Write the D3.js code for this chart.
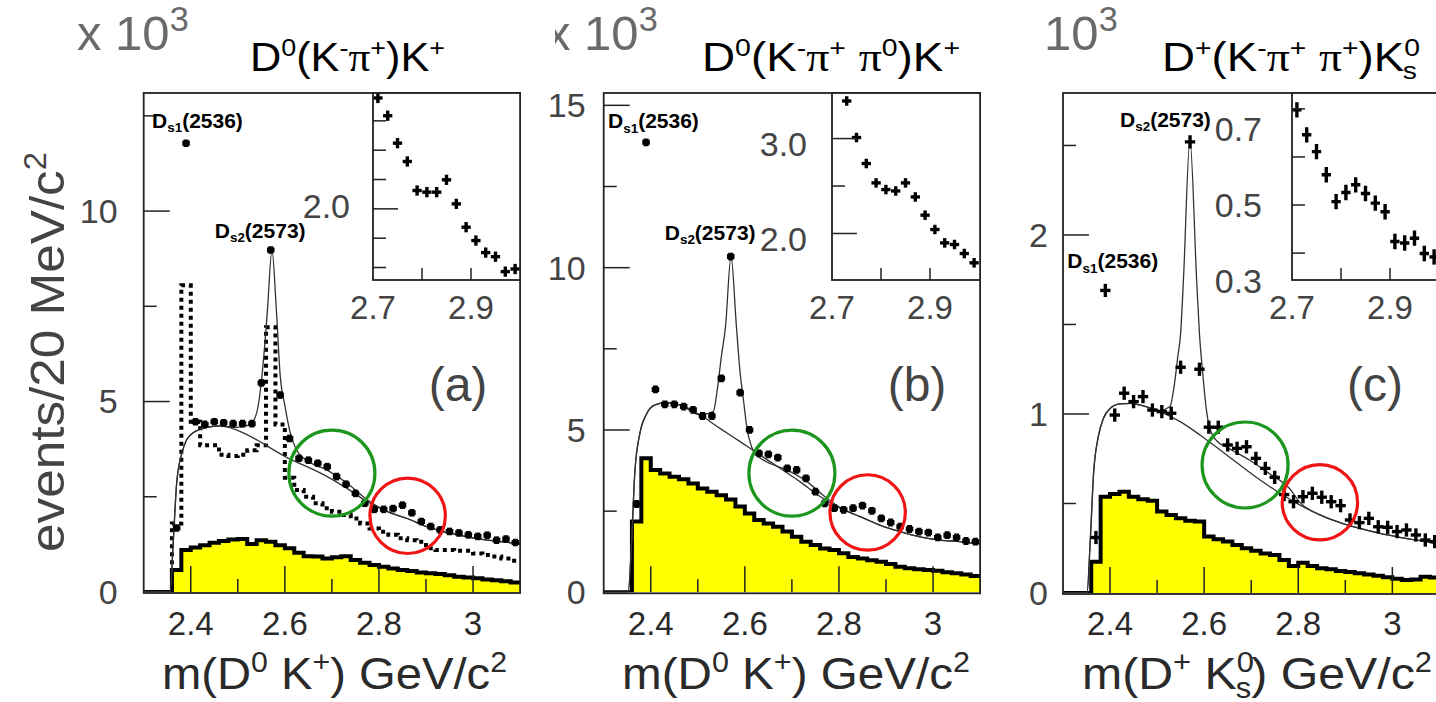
<!DOCTYPE html>
<html>
<head>
<meta charset="utf-8">
<script src="https://cdn.jsdelivr.net/npm/d3@7"></script>
<style>
body { margin: 0; background: #fff; }
svg { display: block; }
</style>
</head>
<body>
<script>
// 20 MeV bin centres (GeV/c^2)
const bins = [2.31, 2.33, 2.35, 2.37, 2.39, 2.41, 2.43, 2.45, 2.47, 2.49,
	2.51, 2.53, 2.55, 2.57, 2.59, 2.61, 2.63, 2.65, 2.67, 2.69,
	2.71, 2.73, 2.75, 2.77, 2.79, 2.81, 2.83, 2.85, 2.87, 2.89,
	2.91, 2.93, 2.95, 2.97, 2.99, 3.01, 3.03, 3.05, 3.07, 3.09];

// (a) D0(K-pi+)K+   values in 10^3 events / 20 MeV
const dataA = [null, null, null, 1.68, 11.78, 4.47, 4.40, 4.47, 4.44, 4.42,
	4.42, 4.42, 5.49, 8.98, 5.17, 4.03, 3.51, 3.46, 3.38, 3.29,
	3.03, 2.83, 2.59, 2.33, 2.17, 2.17, 2.19, 2.28, 2.08, 1.85,
	1.72, 1.63, 1.59, 1.55, 1.50, 1.46, 1.49, 1.36, 1.39, 1.30];
const yellowA = [0, 0, 0, 0.58, 1.10, 1.17, 1.23, 1.29, 1.34, 1.38,
	1.39, 1.26, 1.36, 1.32, 1.23, 1.15, 1.03, 0.94, 0.93, 0.88,
	0.91, 0.94, 0.84, 0.77, 0.71, 0.66, 0.62, 0.58, 0.55, 0.51,
	0.49, 0.47, 0.44, 0.40, 0.38, 0.36, 0.33, 0.31, 0.28, 0.25];
const dottedA = [0, 0, 0, 1.80, 8.05, 4.47, 3.85, 3.85, 3.60, 3.57,
	3.60, 3.72, 3.85, 6.95, 4.40, 3.00, 2.68, 2.50, 2.33, 2.20,
	2.11, 2.02, 1.93, 1.80, 1.67, 1.58, 1.50, 1.41, 1.36, 1.32,
	1.15, 1.10, 1.10, 1.08, 1.08, 1.01, 0.97, 0.93, 0.88, 0.82];
const bgA = [[2.30, 0], [2.356, 0], [2.363, 1.36], [2.370, 2.85], [2.381, 3.64], [2.391, 3.99],
	[2.405, 4.18], [2.434, 4.32], [2.462, 4.36], [2.498, 4.25], [2.541, 3.99], [2.576, 3.73],
	[2.612, 3.48], [2.647, 3.29], [2.690, 3.03], [2.732, 2.72], [2.775, 2.37], [2.818, 2.11],
	[2.860, 1.93], [2.903, 1.71], [2.945, 1.56], [2.988, 1.45], [3.031, 1.36], [3.10, 1.27]];
const fitA = [[2.30, 0], [2.356, 0], [2.363, 1.36], [2.370, 2.85], [2.381, 3.64], [2.391, 3.99],
	[2.405, 4.18], [2.434, 4.32], [2.462, 4.36], [2.498, 4.32], [2.527, 4.40], [2.541, 4.75],
	[2.552, 5.75], [2.558, 6.6], [2.563, 7.4], [2.5726, 8.98], [2.582, 7.4], [2.590, 5.7],
	[2.600, 4.9], [2.612, 4.15], [2.625, 3.72], [2.647, 3.45], [2.690, 3.20], [2.732, 2.86],
	[2.775, 2.42], [2.818, 2.11], [2.860, 1.93], [2.903, 1.71], [2.945, 1.56], [2.988, 1.45],
	[3.031, 1.36], [3.10, 1.27]];
const insetMassA = [2.71, 2.73, 2.75, 2.77, 2.79, 2.81, 2.83, 2.85, 2.87, 2.89, 2.91, 2.93, 2.95, 2.97, 2.99];
const insetA = [2.756, 2.635, 2.448, 2.323, 2.125, 2.114, 2.114, 2.198, 2.034, 1.875, 1.784, 1.702, 1.674, 1.572, 1.590];
const circlesA = [[2.700, 3.12], [2.861, 2.00]];

// (b) D0(K-pi+pi0)K+
const dataB = [null, null, null, 2.72, 13.86, 6.25, 5.79, 5.79, 5.72, 5.62,
	5.43, 5.43, 6.59, 10.34, 6.15, 5.00, 4.28, 4.25, 4.15, 3.82,
	3.77, 3.51, 3.10, 2.74, 2.59, 2.54, 2.59, 2.67, 2.51, 2.28,
	2.15, 2.02, 1.95, 1.87, 1.84, 1.69, 1.76, 1.69, 1.58, 1.56];
const yellowB = [0, 0, 0, 2.18, 4.13, 3.77, 3.66, 3.56, 3.48, 3.35,
	3.20, 3.10, 2.99, 2.86, 2.64, 2.43, 2.23, 2.12, 2.02, 1.87,
	1.71, 1.56, 1.46, 1.35, 1.30, 1.20, 1.09, 1.04, 0.99, 0.94,
	0.87, 0.79, 0.74, 0.71, 0.69, 0.66, 0.62, 0.59, 0.55, 0.50];
const bgB = [[2.30, 0], [2.352, 0], [2.3595, 1.61], [2.366, 3.66], [2.377, 4.90], [2.391, 5.49],
	[2.409, 5.77], [2.434, 5.84], [2.462, 5.77], [2.505, 5.46], [2.547, 5.05], [2.590, 4.64],
	[2.632, 4.23], [2.675, 3.82], [2.717, 3.41], [2.760, 2.95], [2.802, 2.59], [2.845, 2.33],
	[2.887, 2.07], [2.930, 1.87], [2.972, 1.71], [3.015, 1.61], [3.057, 1.56], [3.10, 1.49]];
const fitB = [[2.30, 0], [2.352, 0], [2.3595, 1.61], [2.366, 3.66], [2.377, 4.90], [2.391, 5.49],
	[2.409, 5.77], [2.434, 5.84], [2.462, 5.77], [2.505, 5.47], [2.533, 5.57], [2.541, 6.2],
	[2.550, 7.25], [2.559, 8.2], [2.5706, 10.34], [2.582, 8.2], [2.590, 6.75], [2.597, 5.93],
	[2.604, 5.10], [2.614, 4.49], [2.625, 4.23], [2.646, 4.02], [2.689, 3.77], [2.732, 3.41],
	[2.774, 2.90], [2.802, 2.62], [2.845, 2.33], [2.887, 2.07], [2.930, 1.87], [2.972, 1.71],
	[3.015, 1.61], [3.057, 1.56], [3.10, 1.49]];
const insetMassB = [2.73, 2.75, 2.77, 2.79, 2.81, 2.83, 2.85, 2.87, 2.89, 2.91, 2.93, 2.95, 2.97, 2.99];
const insetB = [3.396, 3.011, 2.737, 2.533, 2.463, 2.448, 2.533, 2.385, 2.193, 2.042, 1.901, 1.884, 1.789, 1.691];
const circlesB = [[2.700, 3.67], [2.861, 2.46]];

// (c) D+(K-pi+pi+)K0s
const dataC = [null, null, null, 0.31, 1.69, 0.994, 1.116, 1.069, 1.097, 1.022,
	1.013, 1.004, 1.261, 2.52, 1.25, 0.926, 0.926, 0.827, 0.808, 0.817,
	0.752, 0.696, 0.646, 0.55, 0.510, 0.538, 0.557, 0.535, 0.510, 0.488,
	0.408, 0.393, 0.417, 0.370, 0.367, 0.343, 0.352, 0.324, 0.296, 0.287];
const yellowC = [0, 0, 0, 0.175, 0.538, 0.553, 0.566, 0.538, 0.523, 0.516,
	0.455, 0.436, 0.417, 0.404, 0.399, 0.315, 0.300, 0.287, 0.268, 0.250,
	0.236, 0.221, 0.212, 0.184, 0.151, 0.169, 0.151, 0.138, 0.132, 0.123,
	0.117, 0.110, 0.104, 0.097, 0.088, 0.080, 0.073, 0.076, 0.091, 0.086];
const bgC = [[2.30, 0], [2.351, 0], [2.358, 0.296], [2.365, 0.668], [2.375, 0.873], [2.386, 0.976],
	[2.400, 1.031], [2.421, 1.056], [2.443, 1.059], [2.471, 1.045], [2.506, 1.013], [2.549, 0.957],
	[2.591, 0.883], [2.634, 0.799], [2.676, 0.715], [2.719, 0.631], [2.761, 0.557], [2.804, 0.491],
	[2.846, 0.436], [2.889, 0.393], [2.931, 0.361], [2.974, 0.333], [3.016, 0.311], [3.059, 0.292], [3.10, 0.275]];
const fitC = [[2.30, 0], [2.351, 0], [2.358, 0.296], [2.365, 0.668], [2.375, 0.873], [2.386, 0.976],
	[2.400, 1.031], [2.421, 1.056], [2.443, 1.059], [2.471, 1.045], [2.506, 1.02], [2.527, 1.04],
	[2.537, 1.17], [2.544, 1.32], [2.550, 1.45], [2.556, 1.75], [2.5698, 2.53], [2.584, 1.75],
	[2.590, 1.45], [2.597, 1.227], [2.604, 1.04], [2.611, 0.93], [2.625, 0.855], [2.653, 0.807],
	[2.696, 0.743], [2.738, 0.668], [2.781, 0.585], [2.804, 0.505], [2.846, 0.436], [2.889, 0.393],
	[2.931, 0.361], [2.974, 0.333], [3.016, 0.311], [3.059, 0.292], [3.10, 0.275]];
const insetMassC = [2.71, 2.73, 2.75, 2.77, 2.79, 2.81, 2.83, 2.85, 2.87, 2.89, 2.91, 2.93, 2.95, 2.97, 2.99];
const insetC = [0.698, 0.646, 0.611, 0.563, 0.507, 0.526, 0.542, 0.524, 0.504, 0.486, 0.424, 0.421, 0.431, 0.399, 0.392];
const circlesC = [[2.687, 0.715], [2.846, 0.507]];

// tick values / labels
const xMajor = [2.4, 2.6, 2.8, 3.0];
const xMinor = [2.5, 2.7, 2.9];
const insetXTicks = [2.8, 2.9];
const insetXLabels = [2.7, 2.9];

const W = 1436, H = 702;
const FONT = "'Liberation Sans', Arial, sans-serif";
const svg = d3.select("body").append("svg").attr("width", W).attr("height", H)
	.style("font-family", FONT);

// text with super/subscripts
const rich = (sel, segs, size, ratio = 0.64) => {
	let off = 0;
	segs.forEach((s) => {
		const target = s.sup ? -size * 0.38 : s.sub ? size * 0.2 : 0;
		const ts = sel.append("tspan").text(s.t).attr("dy", target - off)
			.attr("font-size", s.sup || s.sub ? size * ratio : size);
		if (s.serif) ts.attr("font-family", "'Liberation Serif', serif");
		if (s.dx) ts.attr("dx", s.dx);
		off = target;
	});
};

const panels = [
	{
		left: 143.7, zero: 592, yMax: 13.1, yMajor: [0, 5, 10], yMinor: [2.5, 7.5, 12.5], yGap: 26,
		data: dataA, err: 0.10, hw: 0.008, pw: 5, yellow: yellowA, dotted: dottedA, bg: bgA, fit: fitA,
		inset: { left: 373, mass: insetMassA, vals: insetA, dom: [1.515, 2.79], ticks: [1.6, 1.8, 2.0, 2.2, 2.4, 2.6],
			major: [2.0], labels: [2.0], labelY: null, labelDy: -3.5, gap: 23, err: 0.035 },
		circles: circlesA, mult: 77, clipFrom: 0, titleX: 250, titleLen: 195, tagX: 458,
		title: [{ t: "D" }, { t: "0", sup: 1 }, { t: "(K" }, { t: "-", sup: 1 }, { t: "\u03c0", serif: 1 }, { t: "+", sup: 1 }, { t: ")K" }, { t: "+", sup: 1 }],
		tag: "(a)", ds1: [-34, -15], ds2: [-56, -12],
		xTitle: [{ t: "m(D" }, { t: "0", sup: 1 }, { t: " K" }, { t: "+", sup: 1 }, { t: ") GeV/c" }, { t: "2", sup: 1 }],
		xTitleX: 162, xTitleLen: 345
	},
	{
		left: 603.7, zero: 592.3, yMax: 15.38, yMajor: [0, 5, 10, 15], yMinor: [2.5, 7.5, 12.5], yGap: 18,
		data: dataB, err: 0.12, hw: 0.008, pw: 5, yellow: yellowB, dotted: null, bg: bgB, fit: fitB,
		inset: { left: 832, mass: insetMassB, vals: insetB, dom: [1.51, 3.48], ticks: [2.0, 2.5, 3.0],
			major: [2.0, 3.0], labels: [2.0, 3.0], labelY: null, labelDy: 5.5, gap: 25, err: 0.05 },
		circles: circlesB, mult: 546, clipFrom: 555, titleX: 702, titleLen: 258, tagX: 917,
		title: [{ t: "D" }, { t: "0", sup: 1 }, { t: "(K" }, { t: "-", sup: 1 }, { t: "\u03c0", serif: 1 }, { t: "+", sup: 1 },
			{ t: " " }, { t: "\u03c0", serif: 1 }, { t: "0", sup: 1 }, { t: ")K" }, { t: "+", sup: 1 }],
		tag: "(b)", ds1: [-38, -14], ds2: [-66, -17],
		xTitle: [{ t: "m(D" }, { t: "0", sup: 1 }, { t: " K" }, { t: "+", sup: 1 }, { t: ") GeV/c" }, { t: "2", sup: 1 }],
		xTitleX: 622, xTitleLen: 348
	},
	{
		left: 1063, zero: 593, yMax: 2.793, yMajor: [0, 1, 2], yMinor: [0.5, 1.5, 2.5], yGap: 15,
		data: dataC, err: 0.037, hw: 0.011, pw: 3.4, yellow: yellowC, dotted: null, bg: bgC, fit: fitC,
		inset: { left: 1292, mass: insetMassC, vals: insetC, dom: [0.344, 0.733], ticks: [0.4, 0.5, 0.6, 0.7],
			major: [], labels: [0.3, 0.5, 0.7], labelY: [[0.3, 0.7], [281, 129]], labelDy: 0, gap: 30, err: 0.016 },
		circles: circlesC, mult: 1006, clipFrom: 1035, titleX: 1162, titleLen: 258, tagX: 1375,
		title: [{ t: "D" }, { t: "+", sup: 1 }, { t: "(K" }, { t: "-", sup: 1 }, { t: "\u03c0", serif: 1 }, { t: "+", sup: 1 },
			{ t: " " }, { t: "\u03c0", serif: 1 }, { t: "+", sup: 1 }, { t: ")K" }, { t: "0", sup: 1 }, { t: "s", sub: 1, dx: -15 }],
		tag: "(c)", ds1: [-38, -22], ds2: [-70, -15],
		xTitle: [{ t: "m(D" }, { t: "+", sup: 1 }, { t: " K" }, { t: "0", sup: 1 }, { t: "s", sub: 1, dx: -17 }, { t: ") GeV/c" }, { t: "2", sup: 1 }],
		xTitleX: 1082, xTitleLen: 350
	}
];

const TOP = 93;
const edges = bins.map((b) => b - 0.01).concat([3.10]);

panels.forEach((p, pi) => {
	const g = svg.append("g");
	const x = d3.scaleLinear().domain([2.3, 3.1]).range([p.left, p.left + 376.4]);
	const y = d3.scaleLinear().domain([0, p.yMax]).range([p.zero, TOP]);
	const right = x(3.1);

	const clipId = "clip" + pi;
	svg.append("clipPath").attr("id", clipId).append("rect")
		.attr("x", p.left).attr("y", TOP).attr("width", right - p.left).attr("height", p.zero - TOP);
	const plot = g.append("g").attr("clip-path", "url(#" + clipId + ")");

	// yellow histogram
	const steps = edges.map((e, i) => [e, i < p.yellow.length ? p.yellow[i] : p.yellow[p.yellow.length - 1]]);
	plot.append("path").datum(steps)
		.attr("d", d3.area().curve(d3.curveStepAfter).x((d) => x(d[0])).y0(y(0)).y1((d) => y(d[1])))
		.attr("fill", "#ffff00");
	plot.append("path").datum(steps)
		.attr("d", d3.line().curve(d3.curveStepAfter).x((d) => x(d[0])).y((d) => y(d[1])))
		.attr("fill", "none").attr("stroke", "#000").attr("stroke-width", 4);

	// dotted histogram
	if (p.dotted) {
		const dsteps = edges.map((e, i) => [e, i < p.dotted.length ? p.dotted[i] : p.dotted[p.dotted.length - 1]]);
		plot.append("path").datum(dsteps)
			.attr("d", d3.line().curve(d3.curveStepAfter).x((d) => x(d[0])).y((d) => y(d[1])))
			.attr("fill", "none").attr("stroke", "#000").attr("stroke-width", 4)
			.attr("stroke-dasharray", "4,4");
	}

	// fit curves
	const curve = d3.line().curve(d3.curveMonotoneX).x((d) => x(d[0])).y((d) => y(d[1]));
	plot.append("path").datum(p.bg).attr("d", curve)
		.attr("fill", "none").attr("stroke", "#333").attr("stroke-width", 1.3);
	plot.append("path").datum(p.fit).attr("d", curve)
		.attr("fill", "none").attr("stroke", "#333").attr("stroke-width", 1.3);

	// data points
	const pts = bins.map((b, i) => [b, p.data[i]]).filter((d) => d[1] !== null);
	const ptG = plot.append("g").attr("stroke", "#000").attr("stroke-width", p.pw);
	ptG.selectAll("line.h").data(pts).enter().append("line")
		.attr("x1", (d) => x(d[0] - p.hw)).attr("x2", (d) => x(d[0] + p.hw))
		.attr("y1", (d) => y(d[1])).attr("y2", (d) => y(d[1]));
	ptG.selectAll("line.v").data(pts).enter().append("line")
		.attr("x1", (d) => x(d[0])).attr("x2", (d) => x(d[0]))
		.attr("y1", (d) => y(d[1] - p.err)).attr("y2", (d) => y(d[1] + p.err));

	// highlight circles
	const circleColors = ["#1c961c", "#f01414"];
	const circleR = [43, 37.7];
	g.selectAll("circle.mark").data(p.circles).enter().append("circle")
		.attr("cx", (d) => x(d[0])).attr("cy", (d) => y(d[1]))
		.attr("r", (d, i) => circleR[i])
		.attr("fill", "none").attr("stroke", (d, i) => circleColors[i]).attr("stroke-width", 3.2);

	// frame
	g.append("rect").attr("x", p.left).attr("y", TOP).attr("width", right - p.left).attr("height", p.zero - TOP + 1)
		.attr("fill", "none").attr("stroke", "#222").attr("stroke-width", 1.8);

	// inward ticks
	const tk = g.append("g").attr("stroke", "#222").attr("stroke-width", 1.5);
	tk.selectAll("line.ym").data(p.yMajor.filter((v) => v > 0)).enter().append("line")
		.attr("x1", p.left).attr("x2", p.left + 26).attr("y1", (d) => y(d)).attr("y2", (d) => y(d));
	tk.selectAll("line.yn").data(p.yMinor.filter((v) => v < p.yMax)).enter().append("line")
		.attr("x1", p.left).attr("x2", p.left + 13).attr("y1", (d) => y(d)).attr("y2", (d) => y(d));
	tk.selectAll("line.xm").data(xMajor).enter().append("line")
		.attr("x1", (d) => x(d)).attr("x2", (d) => x(d)).attr("y1", p.zero).attr("y2", p.zero - 26);
	tk.selectAll("line.xn").data(xMinor).enter().append("line")
		.attr("x1", (d) => x(d)).attr("x2", (d) => x(d)).attr("y1", p.zero).attr("y2", p.zero - 13);

	// tick labels
	g.selectAll("text.xl").data(xMajor.filter((d) => x(d) < W)).enter().append("text")
		.attr("x", (d) => x(d)).attr("y", 635).attr("text-anchor", "middle")
		.attr("font-size", 33).attr("fill", "#2a2a2a").text((d) => d3.format("~g")(d));
	g.selectAll("text.yl").data(p.yMajor).enter().append("text")
		.attr("x", p.left - p.yGap).attr("y", (d) => y(d)).attr("dy", "0.35em").attr("text-anchor", "end")
		.attr("font-size", 34).attr("fill", "#444").text((d) => d);

	// inset
	const ins = p.inset;
	const ix = d3.scaleLinear().domain([2.7, 3.0]).range([ins.left, ins.left + 147]);
	const iy = d3.scaleLinear().domain(ins.dom).range([280, TOP]);
	const ig = g.append("g");
	const iclip = "iclip" + pi;
	svg.append("clipPath").attr("id", iclip).append("rect")
		.attr("x", ins.left).attr("y", TOP).attr("width", right - ins.left).attr("height", 280 - TOP);
	ig.append("rect").attr("x", ins.left).attr("y", TOP).attr("width", right - ins.left).attr("height", 280 - TOP)
		.attr("fill", "#fff");
	const ipts = ins.mass.map((m, i) => [m, ins.vals[i]]);
	const ip = ig.append("g").attr("clip-path", "url(#" + iclip + ")")
		.attr("stroke", "#000").attr("stroke-width", 3.4);
	ip.selectAll("line.h").data(ipts).enter().append("line")
		.attr("x1", (d) => ix(d[0] - 0.0095)).attr("x2", (d) => ix(d[0] + 0.0095))
		.attr("y1", (d) => iy(d[1])).attr("y2", (d) => iy(d[1]));
	ip.selectAll("line.v").data(ipts).enter().append("line")
		.attr("x1", (d) => ix(d[0])).attr("x2", (d) => ix(d[0]))
		.attr("y1", (d) => iy(d[1] - ins.err)).attr("y2", (d) => iy(d[1] + ins.err));
	ig.append("rect").attr("x", ins.left).attr("y", TOP).attr("width", right - ins.left).attr("height", 280 - TOP)
		.attr("fill", "none").attr("stroke", "#222").attr("stroke-width", 1.8);
	const itk = ig.append("g").attr("stroke", "#222").attr("stroke-width", 1.5);
	itk.selectAll("line").data(ins.ticks).enter().append("line")
		.attr("x1", ins.left).attr("x2", (d) => ins.left + (ins.major.includes(d) ? 25 : 13))
		.attr("y1", (d) => iy(d)).attr("y2", (d) => iy(d));
	itk.selectAll("line.xb").data(insetXTicks).enter().append("line")
		.attr("x1", (d) => ix(d)).attr("x2", (d) => ix(d)).attr("y1", 280).attr("y2", 268);
	g.selectAll("text.ixl").data(insetXLabels).enter().append("text")
		.attr("x", (d) => ix(d)).attr("y", 319).attr("text-anchor", "middle")
		.attr("font-size", 33).attr("fill", "#444").text((d) => d.toFixed(1));
	const ly = ins.labelY ? d3.scaleLinear().domain(ins.labelY[0]).range(ins.labelY[1]) : iy;
	g.selectAll("text.iyl").data(ins.labels).enter().append("text")
		.attr("x", ins.left - ins.gap).attr("y", (d) => ly(d) + ins.labelDy).attr("dy", "0.36em")
		.attr("text-anchor", "end").attr("font-size", 34).attr("fill", "#444").text((d) => d.toFixed(1));

	// resonance labels
	const ds = (k, off, name, sub) => {
		const t = g.append("text").attr("x", x(bins[k]) + off[0]).attr("y", y(p.data[k]) + off[1])
			.attr("font-weight", "bold").attr("fill", "#000");
		rich(t, [{ t: "D" }, { t: sub, sub: 1 }, { t: name }], 21);
	};
	ds(4, p.ds1, "(2536)", "s1");
	ds(13, p.ds2, "(2573)", "s2");

	// panel tag
	g.append("text").attr("x", p.tagX).attr("y", 401).attr("text-anchor", "middle")
		.attr("font-size", 48).attr("fill", "#444").text(p.tag);

	// multiplier
	const mclip = "mclip" + pi;
	svg.append("clipPath").attr("id", mclip).append("rect")
		.attr("x", p.clipFrom).attr("y", 0).attr("width", W - p.clipFrom).attr("height", 90);
	const mt = g.append("text").attr("x", p.mult).attr("y", 50).attr("fill", "#6a6a6a")
		.attr("clip-path", "url(#" + mclip + ")");
	rich(mt, [{ t: "x 10" }, { t: "3", sup: 1 }], 49, 0.7);

	// title
	const tt = g.append("text").attr("x", p.titleX).attr("y", 71).attr("fill", "#000")
		.attr("textLength", p.titleLen).attr("lengthAdjust", "spacingAndGlyphs");
	rich(tt, p.title, 40, 0.62);

	// x axis title
	const xt = g.append("text").attr("x", p.xTitleX).attr("y", 689).attr("fill", "#2a2a2a")
		.attr("textLength", p.xTitleLen).attr("lengthAdjust", "spacingAndGlyphs");
	rich(xt, p.xTitle, 45);
});

// y axis title
const yt = svg.append("text").attr("transform", "translate(64,352) rotate(-90)")
	.attr("text-anchor", "middle").attr("fill", "#444")
	.attr("textLength", 400).attr("lengthAdjust", "spacingAndGlyphs");
rich(yt, [{ t: "events/20 MeV/c" }, { t: "2", sup: 1 }], 48);
</script>
</body>
</html>
